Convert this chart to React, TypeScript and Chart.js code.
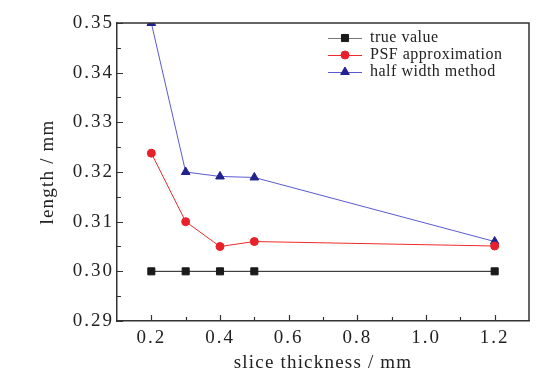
import React, { useEffect, useRef } from 'react';
import { Chart, registerables } from 'chart.js';
import { drawPoint } from 'chart.js/helpers';

Chart.register(...registerables);

const sliceThickness = [0.2, 0.3, 0.4, 0.5, 1.2];
const trueValue = [0.3, 0.3, 0.3, 0.3, 0.3];
const psfApprox = [0.3238, 0.31, 0.305, 0.306, 0.3051];
const halfWidth = [0.35, 0.32, 0.3191, 0.3189, 0.306];
const seriesNames = ['true value', 'PSF approximation', 'half width method'];
const xMajorTicks = [0.2, 0.4, 0.6, 0.8, 1.0, 1.2];
const xMinorTicks = [0.3, 0.5, 0.7, 0.9, 1.1];
const yMajorTicks = [0.29, 0.3, 0.31, 0.32, 0.33, 0.34, 0.35];
const yMinorTicks = [0.295, 0.305, 0.315, 0.325, 0.335, 0.345];
const xTitle = 'slice thickness / mm';
const yTitle = 'length / mm';

const FONT = '"Liberation Serif", "Times New Roman", serif';
const AXIS_COLOR = '#333333';

const stylePlugin = {
  id: 'stylePlugin',
  beforeDraw(chart: any) {
    chart.ctx.letterSpacing = '1.2px';
  },
  beforeDatasetsDraw(chart: any) {
    chart.ctx.letterSpacing = '2px';
  },
  afterDatasetsDraw(chart: any) {
    const { ctx, chartArea: a, scales } = chart;
    ctx.save();
    ctx.strokeStyle = AXIS_COLOR;
    ctx.lineWidth = 1.5;
    ctx.beginPath();
    ctx.moveTo(a.left, a.top);
    ctx.lineTo(a.right, a.top);
    ctx.lineTo(a.right, a.bottom);
    ctx.stroke();
    ctx.lineWidth = 1.2;
    ctx.beginPath();
    xMajorTicks.forEach((v) => {
      const x = Math.round(scales.x.getPixelForValue(v)) + 0.5;
      ctx.moveTo(x, a.bottom);
      ctx.lineTo(x, a.bottom - 6);
    });
    xMinorTicks.forEach((v) => {
      const x = Math.round(scales.x.getPixelForValue(v)) + 0.5;
      ctx.moveTo(x, a.bottom);
      ctx.lineTo(x, a.bottom - 4);
    });
    yMajorTicks.forEach((v) => {
      const y = Math.round(scales.y.getPixelForValue(v)) + 0.5;
      ctx.moveTo(a.left, y);
      ctx.lineTo(a.left + 6, y);
    });
    yMinorTicks.forEach((v) => {
      const y = Math.round(scales.y.getPixelForValue(v)) + 0.5;
      ctx.moveTo(a.left, y);
      ctx.lineTo(a.left + 4, y);
    });
    ctx.stroke();
    ctx.restore();
  },
  afterDraw(chart: any) {
    const { ctx, chartArea: a } = chart;
    ctx.save();
    ctx.letterSpacing = '0.5px';
    ctx.font = '16px ' + FONT;
    ctx.textBaseline = 'middle';
    ctx.textAlign = 'left';
    chart.data.datasets.forEach((ds: any, i: number) => {
      const y = a.top + 15 + i * 17;
      const x0 = a.left + 211;
      ctx.strokeStyle = ds.legendLineColor || ds.borderColor;
      ctx.lineWidth = 1;
      ctx.beginPath();
      ctx.moveTo(x0, y + 0.5);
      ctx.lineTo(x0 + 34, y + 0.5);
      ctx.stroke();
      ctx.fillStyle = ds.pointBackgroundColor;
      ctx.strokeStyle = ds.pointBorderColor;
      drawPoint(ctx, { pointStyle: ds.pointStyle, radius: ds.pointRadius, rotation: 0, borderWidth: 1 }, x0 + 17, y);
      ctx.fillStyle = '#222222';
      ctx.fillText(ds.label, x0 + 42, y);
    });
    ctx.letterSpacing = '0px';
    ctx.restore();
    ctx.letterSpacing = '0px';
  },
};

export default function App() {
  const ref = useRef<HTMLCanvasElement | null>(null);
  useEffect(() => {
    if (!ref.current) return;
    const mk = (v: number[]) => v.map((y, i) => ({ x: sliceThickness[i], y }));
    const chart = new Chart(ref.current, {
      type: 'line',
      data: {
        datasets: [
          {
            label: seriesNames[0],
            data: mk(trueValue),
            borderColor: '#1a1a1a',
            legendLineColor: '#777777',
            borderWidth: 1,
            pointStyle: 'rect',
            pointRadius: 5,
            pointBackgroundColor: '#1a1a1a',
            pointBorderColor: '#1a1a1a',
            pointBorderWidth: 1,
            clip: 0,
          } as any,
          {
            label: seriesNames[1],
            data: mk(psfApprox),
            borderColor: '#ee2a2a',
            borderWidth: 1,
            pointStyle: 'circle',
            pointRadius: 4,
            pointBackgroundColor: '#e8202a',
            pointBorderColor: '#e8202a',
            pointBorderWidth: 1,
            clip: 0,
          } as any,
          {
            label: seriesNames[2],
            data: mk(halfWidth),
            borderColor: '#5a5ad0',
            borderWidth: 1,
            pointStyle: 'triangle',
            pointRadius: 5,
            pointBackgroundColor: '#22228f',
            pointBorderColor: '#22228f',
            pointBorderWidth: 1,
            clip: 0,
          } as any,
        ],
      },
      options: {
        animation: false,
        responsive: false,
        devicePixelRatio: 1,
        layout: { padding: { top: 23, right: 30, left: 0, bottom: 0 } },
        plugins: { legend: { display: false }, tooltip: { enabled: false } },
        scales: {
          x: {
            type: 'linear',
            min: 0.1,
            max: 1.3,
            afterBuildTicks: (s: any) => {
              s.ticks = xMajorTicks.map((v) => ({ value: v }));
            },
            afterFit: (s: any) => {
              s.height = 56;
            },
            grid: { display: false, drawTicks: false },
            border: { display: true, color: AXIS_COLOR, width: 1.5 },
            ticks: {
              z: 1,
              padding: 6,
              color: '#222222',
              font: { family: FONT, size: 19 },
              maxRotation: 0,
              callback: (v: any) => Number(v).toFixed(1),
            },
            title: {
              display: true,
              text: xTitle,
              color: '#222222',
              font: { family: FONT, size: 19 },
              padding: { top: 0, bottom: 3 },
            },
          },
          y: {
            type: 'linear',
            min: 0.29,
            max: 0.35,
            afterBuildTicks: (s: any) => {
              s.ticks = yMajorTicks.map((v) => ({ value: v }));
            },
            afterFit: (s: any) => {
              s.width = 117;
            },
            grid: { display: false, drawTicks: false },
            border: { display: true, color: AXIS_COLOR, width: 1.5 },
            ticks: {
              z: 1,
              padding: 3,
              color: '#222222',
              font: { family: FONT, size: 19 },
              callback: (v: any) => Number(v).toFixed(2),
            },
            title: {
              display: true,
              text: yTitle,
              color: '#222222',
              font: { family: FONT, size: 19 },
              padding: { top: 37, bottom: 0 },
            },
          },
        },
      },
      plugins: [stylePlugin],
    } as any);
    return () => chart.destroy();
  }, []);
  return (
    <div style={{ position: 'absolute', left: 0, top: 0, width: 559, height: 377, background: '#fff' }}>
      <canvas ref={ref} width={559} height={377} />
    </div>
  );
}
